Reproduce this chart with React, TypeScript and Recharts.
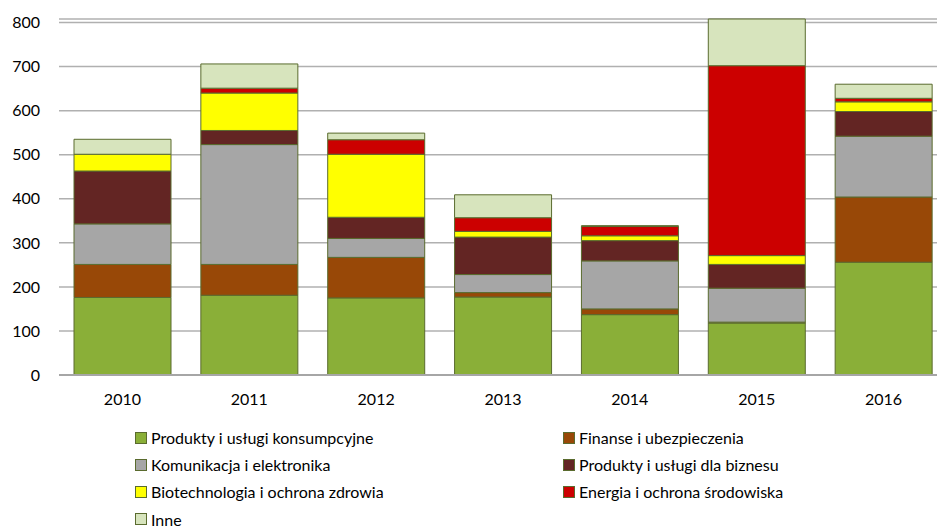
import React from 'react';
import { BarChart, Bar, XAxis, YAxis, CartesianGrid } from 'recharts';

const years = ['2010', '2011', '2012', '2013', '2014', '2015', '2016'];
const konsumpcyjne = [176, 181, 175, 177, 137, 118, 256];
const finanse = [75, 70, 92, 10, 13, 2, 148];
const komunikacja = [92, 272, 43, 41, 109, 77, 138];
const biznes = [120, 32, 48, 85, 46, 54, 56];
const biotech = [38, 85, 143, 13, 11, 20, 22];
const energia = [0, 11, 33, 31, 21, 431, 8];
const inne = [34, 55, 15, 52, 2, 106, 32];
const yTicks = [0, 100, 200, 300, 400, 500, 600, 700, 800];

const seriesDefs = [
  { key: 'k', name: 'Produkty i usługi konsumpcyjne', color: '#8AAF38', values: konsumpcyjne },
  { key: 'f', name: 'Finanse i ubezpieczenia', color: '#984807', values: finanse },
  { key: 'c', name: 'Komunikacja i elektronika', color: '#A6A6A6', values: komunikacja },
  { key: 'b', name: 'Produkty i usługi dla biznesu', color: '#632523', values: biznes },
  { key: 'h', name: 'Biotechnologia i ochrona zdrowia', color: '#FFFF00', values: biotech },
  { key: 'e', name: 'Energia i ochrona środowiska', color: '#CC0000', values: energia },
  { key: 'i', name: 'Inne', color: '#D7E4BD', values: inne },
];

const data = years.map((y, idx) => {
  const row: Record<string, any> = { year: y };
  seriesDefs.forEach((s) => {
    row[s.key] = s.values[idx];
  });
  return row;
});

const FONT = 'Lato, "Open Sans", sans-serif';

const LegendBlock = () => (
  <div
    style={{
      position: 'absolute',
      left: 135,
      top: 424,
      width: 760,
      display: 'grid',
      gridTemplateColumns: '428px 300px',
      fontFamily: FONT,
      fontSize: 16,
      color: '#000',
    }}
  >
    {seriesDefs.map((s) => (
      <div key={s.key} style={{ display: 'flex', alignItems: 'center', height: 27.2, whiteSpace: 'nowrap' }}>
        <span
          style={{
            display: 'inline-block',
            width: 10,
            height: 10,
            background: s.color,
            border: '1px solid #5A6B2E',
            marginRight: 4,
          }}
        />
        <span>{s.name}</span>
      </div>
    ))}
  </div>
);

export default function App() {
  return (
    <div style={{ position: 'absolute', left: 0, top: 0, width: 937, height: 527, overflow: 'hidden', background: '#fff' }}>
      <BarChart
        width={960}
        height={420}
        data={data}
        margin={{ top: 19, right: 13, left: 0, bottom: 15 }}
        barSize={97}
      >
        <CartesianGrid vertical={false} stroke="#B0B0B0" strokeWidth={1.5} />
        <XAxis
          dataKey="year"
          height={30}
          tickLine={false}
          tickSize={0}
          tickMargin={19}
          axisLine={{ stroke: '#A6A6A6', strokeWidth: 2 }}
          tick={{ fill: '#000', fontSize: 16, fontFamily: FONT }}
        />
        <YAxis
          width={59}
          domain={[0, 800]}
          ticks={yTicks}
          axisLine={false}
          tickLine={false}
          tickSize={0}
          tickMargin={19}
          tick={{ fill: '#000', fontSize: 16, fontFamily: FONT }}
        />
        {seriesDefs.map((s) => (
          <Bar
            key={s.key}
            dataKey={s.key}
            name={s.name}
            stackId="a"
            fill={s.color}
            stroke="#5A6B2E"
            strokeWidth={1}
            isAnimationActive={false}
          />
        ))}
      </BarChart>
      <LegendBlock />
    </div>
  );
}
